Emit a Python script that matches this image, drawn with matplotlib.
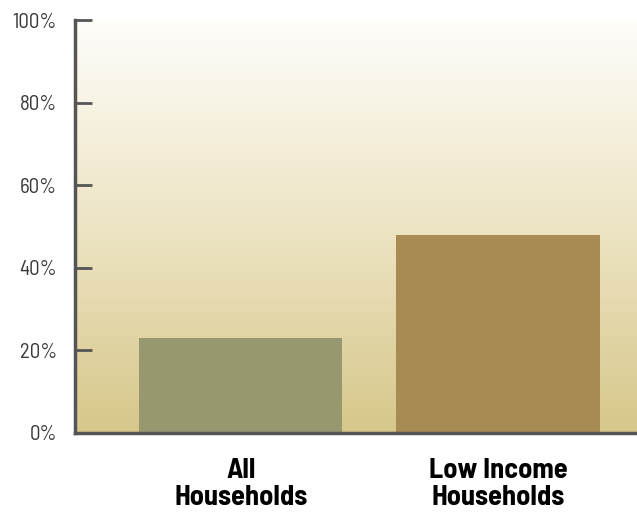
import matplotlib
matplotlib.use("Agg")
import matplotlib.pyplot as plt
import numpy as np
from matplotlib.colors import LinearSegmentedColormap
from matplotlib.ticker import FuncFormatter

categories = ["All\nHouseholds", "Low Income\nHouseholds"]
values = [23, 48]
bar_colors = ["#979770", "#A88A53"]

plt.rcParams['font.family'] = ['Barlow Semi Condensed', 'DejaVu Sans']

fig = plt.figure(figsize=(6.37, 5.17), dpi=100)
ax = fig.add_axes([0.118, 0.1625, 0.882, 0.7985])

# background gradient, white at top to khaki at bottom
cmap = LinearSegmentedColormap.from_list("bg", ["#D7C78A", "#EDE4C4", "#FEFDFA"])
grad = np.linspace(0, 1, 256).reshape(-1, 1)
ax.imshow(grad, aspect="auto", cmap=cmap, origin="lower",
          extent=[0, 1, 0, 1], transform=ax.transAxes, zorder=0)

x = np.arange(len(categories))
ax.bar(x, values, width=0.79, color=bar_colors, zorder=2)

ax.set_xlim(-0.643, 1.54)
ax.set_ylim(0, 100)
ax.set_yticks([0, 20, 40, 60, 80, 100])
ax.yaxis.set_major_formatter(FuncFormatter(lambda v, p: f"{int(v)}%"))
ax.set_xticks(x)
ax.set_xticklabels(categories, fontsize=20.5, fontweight="bold", linespacing=1.12)

for s in ["top", "right"]:
    ax.spines[s].set_visible(False)
for s in ["left", "bottom"]:
    ax.spines[s].set_color("#555555")
    ax.spines[s].set_linewidth(2.5)
    ax.spines[s].set_zorder(3)

ax.tick_params(axis="y", direction="in", length=12, width=2, color="#555555",
               labelsize=15, labelcolor="#3a3a3a", pad=13)
ax.tick_params(axis="x", length=0, pad=18)

fig.savefig("out.png", dpi=100)
